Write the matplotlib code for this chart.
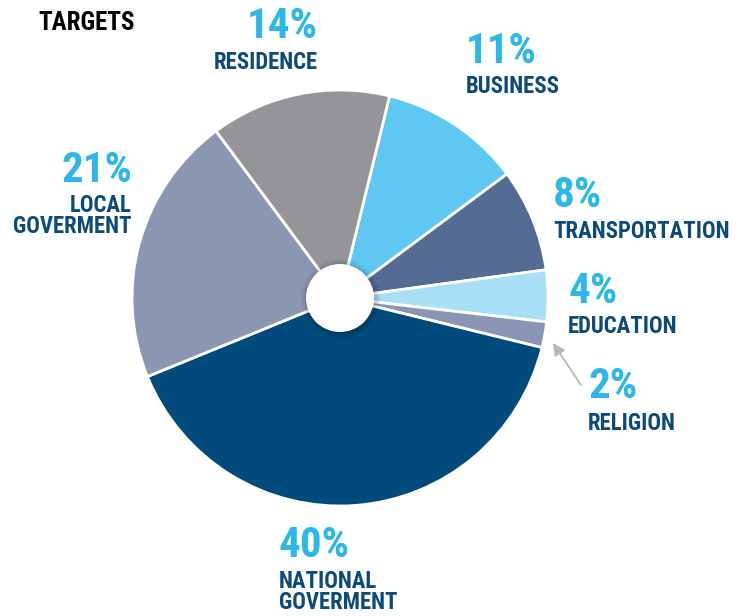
import matplotlib
matplotlib.use("Agg")
import matplotlib.pyplot as plt
from matplotlib.patches import Circle

plt.rcParams['font.family'] = ['Roboto Condensed', 'Liberation Sans Narrow', 'DejaVu Sans']

# data (clockwise from the top boundary)
categories = ["BUSINESS", "TRANSPORTATION", "EDUCATION", "RELIGION",
              "NATIONAL\nGOVERMENT", "LOCAL\nGOVERMENT", "RESIDENCE"]
shares = [11, 8, 4, 2, 40, 21, 14]
colors = ["#5ec8f2", "#546b94", "#a8def6", "#8a95b5",
          "#004b7b", "#8b96b3", "#939598"]

pct_color = "#2bb7ea"
lab_color = "#0d4a7a"

W, H = 747, 616
fig = plt.figure(figsize=(W / 100, H / 100), dpi=100)
ax = fig.add_axes([0, 0, 1, 1])

cx, cy, r = 340, H - 298, 208
ax.pie(shares, colors=colors, startangle=76.2, counterclock=False,
       center=(cx, cy), radius=r, frame=True,
       wedgeprops=dict(edgecolor="white", linewidth=2))

# hole with soft shadow
for k, a in [(6, 0.04), (4, 0.06), (2, 0.08)]:
    ax.add_patch(Circle((cx + 1, cy - 1), 34 + k, color="black", alpha=a, lw=0))
ax.add_patch(Circle((cx, cy), 34, color="white", lw=0))

ax.set_xlim(0, W)
ax.set_ylim(0, H)
ax.set_aspect("equal")
ax.axis("off")


def label(i, x, base_pct, base_lab, ha):
    # base_lab = baseline of first line; matplotlib anchors the last one
    n = categories[i].count("\n")
    ax.text(x, H - base_pct, f"{shares[i]}%", color=pct_color, fontsize=31,
            fontweight="bold", ha=ha, va="baseline")
    ax.text(x, H - (base_lab + 20 * n), categories[i], color=lab_color,
            fontsize=16.4, fontweight="bold", ha=ha, va="baseline",
            multialignment=ha, linespacing=0.88)


ax.text(38, H - 30, "TARGETS", color="black", fontsize=18,
        fontweight="bold", ha="left", va="baseline")

label(6, 318, 38, 69, "right")
label(0, 466, 63, 93, "left")
label(5, 132, 182, 213, "right")
label(1, 553, 207, 238, "left")
label(2, 568, 303, 333, "left")
label(3, 588, 398, 430, "left")
label(4, 279, 557, 589, "left")

ax.annotate("", xy=(553, H - 343), xytext=(581, H - 385),
            arrowprops=dict(arrowstyle="-|>", color="#b8b8b8", lw=1.3,
                            mutation_scale=18, shrinkA=0, shrinkB=0))

fig.savefig("out.png", dpi=100)
